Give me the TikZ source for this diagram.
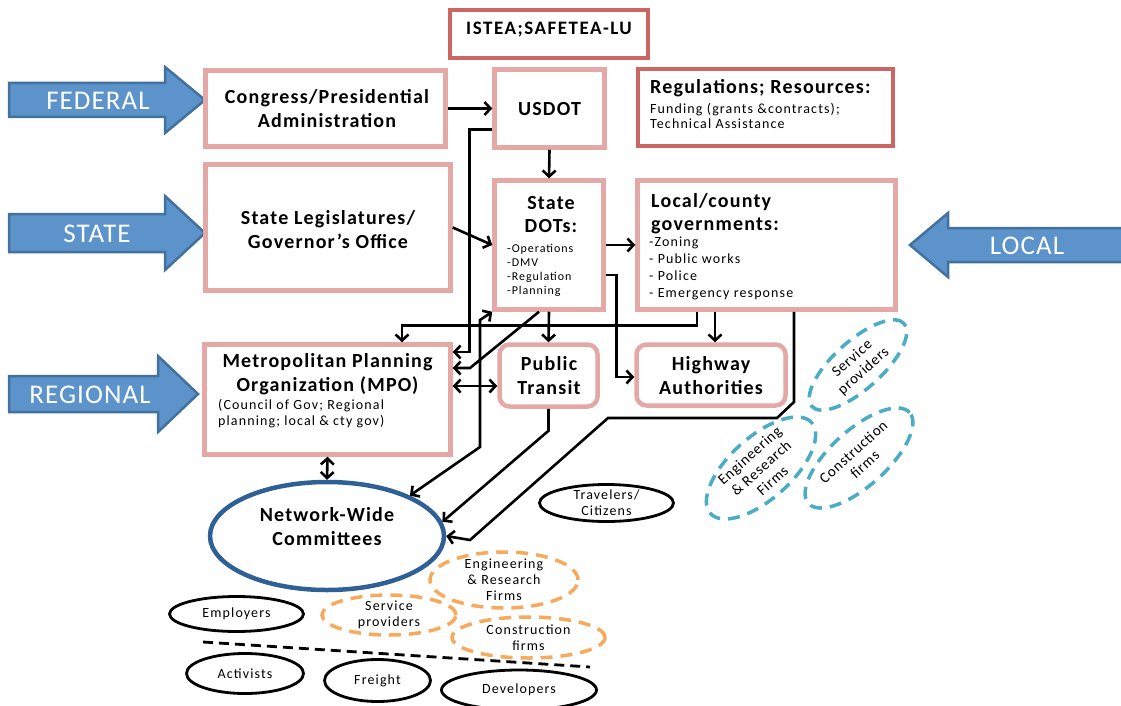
\documentclass[tikz,border=0pt]{standalone}
\usepackage{fontspec}
\setmainfont{Carlito}
\usetikzlibrary{arrows.meta,shapes.geometric,calc}
\definecolor{pinkb}{RGB}{228,168,166}
\definecolor{redb}{RGB}{204,102,98}
\definecolor{navyb}{RGB}{46,95,150}
\definecolor{arrfill}{RGB}{92,147,203}
\definecolor{arrdraw}{RGB}{65,113,156}
\definecolor{orng}{RGB}{247,170,92}
\definecolor{cyanb}{RGB}{75,172,198}
\newcommand{\ls}[1]{\addfontfeatures{LetterSpace=#1}}
\begin{document}
\begin{tikzpicture}[x=1pt,y=-1pt,
  pinkbox/.style={draw=pinkb,line width=4.5pt,fill=white,inner sep=0pt},
  pinkround/.style={pinkbox,rounded corners=10pt},
  redbox/.style={draw=redb,line width=4pt,fill=white,inner sep=0pt},
  big/.style={font=\bfseries\fontsize{20}{24}\selectfont\ls{6},align=center,inner sep=0pt},
  mid/.style={font=\bfseries\fontsize{20}{23}\selectfont\ls{6},inner sep=0pt},
  small/.style={font=\fontsize{14}{15}\selectfont\ls{8},align=left,inner sep=0pt},
  conn/.style={line width=2.6pt,line join=miter,-{Straight Barb[length=6pt,width=13pt,line width=2.6pt]}},
  dconn/.style={line width=2.6pt,{Straight Barb[length=6pt,width=13pt,line width=2.6pt]}-{Straight Barb[length=6pt,width=13pt,line width=2.6pt]}},
  blk/.style={draw=black,line width=2.8pt,ellipse,inner sep=-3pt,align=center,font=\fontsize{14}{16}\selectfont\ls{8}},
  odash/.style={draw=orng,line width=3.5pt,dash pattern=on 12pt off 8pt,ellipse,inner sep=-3pt,align=center,font=\fontsize{14}{16}\selectfont\ls{8}},
  cdash/.style={draw=cyanb,line width=3.5pt,dash pattern=on 12pt off 8pt,ellipse,inner sep=-3pt,align=center,font=\fontsize{15}{17}\selectfont\ls{5}},
  blockarrow/.style={fill=arrfill,draw=arrdraw,line width=2.5pt,line join=miter},
  arrlabel/.style={text=white,font=\fontsize{27}{30}\selectfont\ls{4},inner sep=0pt}
]
\useasboundingbox (0,0) rectangle (1121,706);
\fill[white] (0,0) rectangle (1121,706);

% block arrows
\draw[blockarrow] (9,83) -- (165,83) -- (165,67) -- (205,100) -- (165,133) -- (165,117) -- (9,117) -- cycle;
\node[arrlabel] (lfed) at (98,101) {FEDERAL};
\draw[blockarrow] (9,214) -- (165,214) -- (165,196) -- (205,233) -- (165,270) -- (165,252) -- (9,252) -- cycle;
\node[arrlabel] (lstate) at (97,234) {STATE};
\draw[blockarrow] (9,376) -- (158,376) -- (158,356) -- (198,394) -- (158,432) -- (158,412) -- (9,412) -- cycle;
\node[arrlabel] (lreg) at (90,395) {REGIONAL};
\draw[blockarrow] (1125,228) -- (948,228) -- (948,213) -- (910,245) -- (948,277) -- (948,262) -- (1125,262) -- cycle;
\node[arrlabel] (lloc) at (1027,246) {LOCAL};

% boxes
\node[redbox,minimum width=198,minimum height=48] (istea) at (549,34) {};
\node[font=\bfseries\fontsize{19}{22}\selectfont\ls{8},inner sep=0pt] (isteat) at (549,30) {ISTEA;SAFETEA-LU};

\node[pinkbox,minimum width=240,minimum height=76] (congress) at (325.5,108.5) {};
\node[big] (congresst) at (327,109) {Congress/Presidential\\Administration};

\node[pinkbox,minimum width=110,minimum height=78] (usdot) at (549.5,108.5) {};
\node[big] (usdott) at (549.5,109) {USDOT};

\node[redbox,minimum width=255,minimum height=76] (regs) at (765,107.5) {};
\node[font=\bfseries\fontsize{20}{22}\selectfont\ls{6},anchor=west,inner sep=0pt] (regst) at (650,88) {Regulations; Resources:};
\node[small,anchor=north west] (regsl) at (650,103) {Funding (grants \&contracts);\\Technical Assistance};

\node[pinkbox,minimum width=245,minimum height=126] (stateleg) at (328,227.5) {};
\node[big] (statelegt) at (328,230) {State Legislatures/\\Governor’s Office};

\node[pinkbox,minimum width=109,minimum height=129] (statedots) at (549,245) {};
\node[mid,align=center,anchor=north] (sdt) at (551,196) {State\\DOTs:};
\node[font=\fontsize{12}{14}\selectfont\ls{8},align=left,inner sep=0pt,anchor=north west] (sdl) at (507,244) {-Operations\\-DMV\\-Regulation\\-Planning};

\node[pinkbox,minimum width=258,minimum height=129] (local) at (766.5,245) {};
\node[mid,align=left,anchor=north west] (localt) at (651,193) {Local/county\\governments:};
\node[font=\fontsize{14}{17}\selectfont\ls{8},align=left,inner sep=0pt,anchor=north west] (locall) at (649,237) {-Zoning\\- Public works\\- Police\\- Emergency response};

\node[pinkbox,minimum width=246,minimum height=110] (mpo) at (327.5,399.5) {};
\node[big] (mpot) at (327.5,374) {Metropolitan Planning\\Organization (MPO)};
\node[font=\fontsize{14}{16}\selectfont\ls{8},align=left,inner sep=0pt,anchor=north west] (mpol) at (218,399) {(Council of Gov; Regional\\planning; local \& cty gov)};

\node[pinkround,minimum width=98,minimum height=62] (transit) at (548.5,375.5) {};
\node[big] (transitt) at (549,376) {Public\\Transit};

\node[pinkround,minimum width=149,minimum height=61] (highway) at (711,375) {};
\node[big] (highwayt) at (711,376) {Highway\\Authorities};

% network-wide ellipse
\node[draw=navyb,line width=4.5pt,ellipse,minimum width=234,minimum height=108,inner sep=0pt] (netw) at (327,536) {};
\node[big] (netwt) at (327,527) {Network-Wide\\Committees};

% other ellipses
\node[blk,minimum width=134,minimum height=37] (travel) at (606.5,503) {Travelers/\\Citizens};
\node[blk,minimum width=134,minimum height=35] (employ) at (236.5,614) {Employers};
\node[blk,minimum width=117,minimum height=40] (activ) at (245,673.5) {Activists};
\node[blk,minimum width=106,minimum height=42] (freight) at (377.5,680.5) {Freight};
\node[blk,minimum width=155,minimum height=40] (devel) at (519,690) {Developers};

\node[odash,minimum width=148,minimum height=56] (oer) at (504,580) {Engineering\\\& Research\\Firms};
\node[odash,minimum width=134,minimum height=40] (osp) at (389,615) {Service\\providers};
\node[odash,minimum width=153,minimum height=41] (ocf) at (528.5,637.5) {Construction\\firms};

\node[cdash,minimum width=124,minimum height=48,rotate=42] (csp) at (858,365) {Service\\providers};
\node[cdash,minimum width=136,minimum height=62,rotate=42] (cer) at (761,468) {Engineering\\\& Research\\Firms};
\node[cdash,minimum width=136,minimum height=56,rotate=42] (ccf) at (859,458) {Construction\\firms};

% dashed separator
\coordinate (sepA) at (203,642);
\coordinate (sepB) at (590,667);
\draw[line width=2.8pt,dash pattern=on 10pt off 6pt] (sepA) -- (sepB);

% connectors
\draw[conn] (congress.east) -- (usdot.west);
\draw[conn] (usdot.south) -- (statedots.north);
\draw[conn] ([yshift=-21pt]usdot.west) -- ++(-23,0) |- ([yshift=47.5pt]mpo.east);
\draw[conn] (stateleg.east) -- (statedots.west);
\draw[conn] (statedots.east) -- (local.west);
\draw[conn] ([yshift=-30pt]statedots.east) -- ++(11,0) |- ([yshift=-2pt]highway.west);
\draw[conn] (statedots.south) -- (transit.north);
\coordinate (d8) at (470,368);
\draw[conn] ([xshift=-10pt]statedots.south) -- (d8) -- ([yshift=31.5pt]mpo.east);
\draw[conn] ([xshift=-69.5pt]local.south) -- ++(0,14) -| ([xshift=74.5pt]mpo.north);
\draw[conn] ([xshift=-51.5pt]local.south) -- ([xshift=-51.5pt]local.south |- highway.north);
\coordinate (p1) at (794,402);
\coordinate (p2) at (777,418);
\coordinate (p3) at (608,418);
\coordinate (p4) at (470,540);
\draw[conn] ([xshift=27.5pt]local.south) -- (p1) -- (p2) -- (p3) -- (p4) -- (netw.east);
\draw[conn] (transit.south) -- ++(0,22) -- (netw.7);
\coordinate (w1) at (480,447);
\coordinate (w2) at (480,320);
\draw[dconn] (netw.26) -- (w1) -- (w2) -- (statedots.south west);
\draw[dconn] ([yshift=13.5pt]mpo.east) -- ([yshift=13.5pt]mpo.east -| transit.west);
\draw[dconn] (mpo.south) -- (netw.north);
\end{tikzpicture}
\end{document}
